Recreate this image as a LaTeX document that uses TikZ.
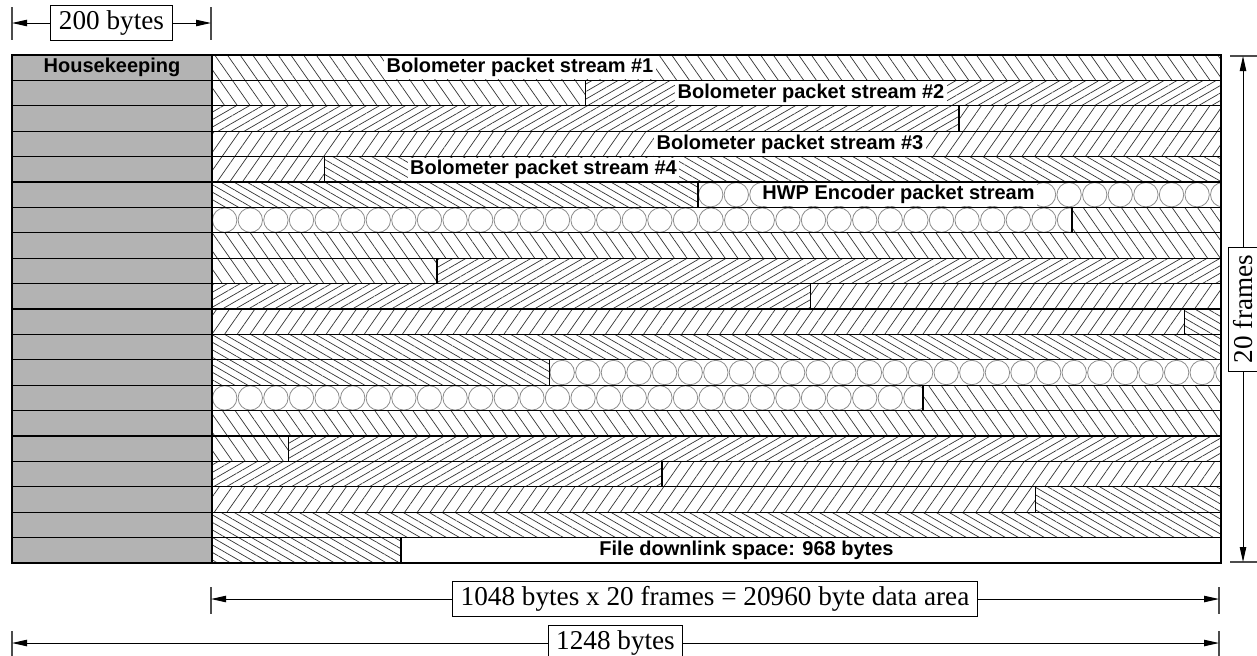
\documentclass[tikz,border=0pt]{standalone}
\usepackage{fontspec}
\setmainfont{Liberation Serif}
\setsansfont{Liberation Sans}
\usetikzlibrary{patterns.meta,arrows.meta}
\definecolor{hkgray}{RGB}{179,179,179}
\tikzset{
  pa/.style={pattern={Lines[angle=-55,distance=5.2pt,line width=0.35pt]},pattern color=black!80},
  pb/.style={pattern={Lines[angle=30,distance=3.25pt,line width=0.35pt]},pattern color=black!80},
  pc/.style={pattern={Lines[angle=55,distance=5.2pt,line width=0.35pt]},pattern color=black!80},
  pd/.style={pattern={Lines[angle=-30,distance=3.25pt,line width=0.35pt]},pattern color=black!80},
  pe/.style={fill=white},
  cell/.style={draw=black,line width=0.6pt},
  hwp/.style={draw=black!45,line width=0.4pt},
  tag/.style={font=\sffamily\bfseries\fontsize{10}{12}\selectfont,inner sep=1.2pt},
  dim/.style={line width=0.5pt,{Triangle[length=7.5pt,width=3.2pt]}-{Triangle[length=7.5pt,width=3.2pt]}},
  dimbox/.style={draw,fill=white,line width=0.5pt,font=\fontsize{13.6}{16}\selectfont,inner xsep=4pt,inner ysep=2.4pt},
  tick/.style={line width=0.6pt,black!70},
}
\begin{document}
\begin{tikzpicture}[x=0.5pt,y=-0.5pt]
      \useasboundingbox (0,0) rectangle (1257,655);
      \def\rh{25.4}
      % housekeeping column
      \foreach \r in {0,...,19}
        \draw[cell,fill=hkgray] (12,{55+\r*\rh}) rectangle (212,{55+(\r+1)*\rh});
      % packet streams
      \foreach \r/\xa/\xb/\s in {0/212/1221/pa, 1/212/585.5/pa, 1/585.5/1221/pb,
          2/212/959/pb, 2/959/1221/pc, 3/212/1221/pc, 4/212/324.5/pc, 4/324.5/1221/pd,
          5/212/698/pd, 6/1072/1221/pa, 7/212/1221/pa, 8/212/437/pa, 8/437/1221/pb,
          9/212/810.5/pb, 9/810.5/1221/pc, 10/212/1184.5/pc, 10/1184.5/1221/pd,
          11/212/1221/pd, 12/212/549.5/pd, 13/923/1221/pa, 14/212/1221/pa,
          15/212/288.5/pa, 15/288.5/1221/pb, 16/212/662/pb, 16/662/1221/pc,
          17/212/1035.5/pc, 17/1035.5/1221/pd, 18/212/1221/pd, 19/212/401/pd, 19/401/1221/pe}
        \draw[cell,\s] (\xa,{55+\r*\rh}) rectangle (\xb,{55+(\r+1)*\rh});
      \foreach \r/\xa/\xb in {5/698/1221, 6/212/1072, 12/549.5/1221, 13/212/923}{
        \begin{scope}
          \clip (\xa,{55+\r*\rh}) rectangle (\xb,{55+(\r+1)*\rh});
          \foreach \k in {0,...,39}
            \draw[hwp] ({\xa+12.7+25.6*\k},{55+(\r+.5)*\rh}) circle (12.2);
        \end{scope}
        \draw[cell] (\xa,{55+\r*\rh}) rectangle (\xb,{55+(\r+1)*\rh});
      }
      % labels
      \node[tag] (hk) at (112,{55+.5*\rh}) {Housekeeping};
      \node[tag,fill=white] (bolo1) at (520,{55+.5*\rh}) {Bolometer packet stream \#1};
      \node[tag,fill=white] (bolo2) at (811,{55+1.5*\rh}) {Bolometer packet stream \#2};
      \node[tag,fill=white] (bolo3) at (790,{55+3.5*\rh}) {Bolometer packet stream \#3};
      \node[tag,fill=white] (bolo4) at (543.5,{55+4.5*\rh}) {Bolometer packet stream \#4};
      \node[tag,fill=white] (enc) at (898.5,{55+5.5*\rh}) {HWP Encoder packet stream};
      \node[tag] (file) at (746.5,{55+19.5*\rh}) {File downlink space: 968 bytes};
      % dimensions
      \coordinate(hkL)at(12,23);\coordinate(hkR)at(211,23);
      \coordinate(frT)at(1243,56);\coordinate(frB)at(1243,562);
      \coordinate(daL)at(211,599);\coordinate(daR)at(1219,599);
      \coordinate(allL)at(12,643);\coordinate(allR)at(1219,643);
      \draw[tick] (12,7)--(12,40) (211,7)--(211,40)
                  (1230,56)--(1257,56) (1230,562)--(1257,562)
                  (211,587)--(211,614) (1219,587)--(1219,614)
                  (12,631)--(12,657) (1219,631)--(1219,657);
      \draw[dim] (hkL)--(hkR) node[midway,dimbox] (hkw) {200 bytes};
      \draw[dim] (frT)--(frB) node[midway,dimbox,rotate=90] (frh) {20 frames};
      \draw[dim] (daL)--(daR) node[midway,dimbox] (daw) {1048 bytes x 20 frames = 20960 byte data area};
      \draw[dim] (allL)--(allR) node[midway,dimbox] (allw) {1248 bytes};
\end{tikzpicture}
\end{document}
